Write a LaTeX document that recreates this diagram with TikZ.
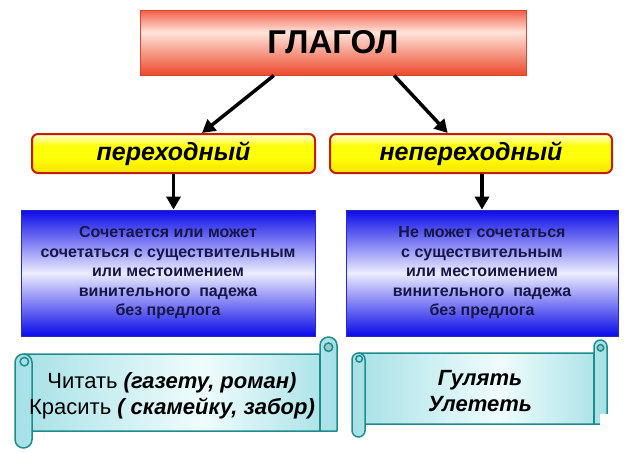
\documentclass[tikz,border=0pt]{standalone}
\usepackage{fontspec}
\setmainfont{Liberation Sans}
\usetikzlibrary{arrows.meta,calc}

\definecolor{glagtop}{RGB}{242,92,70}
\definecolor{glaglight}{RGB}{255,228,218}
\definecolor{glagbot}{RGB}{236,72,44}
\definecolor{glagline}{RGB}{214,70,40}
\definecolor{vidtop}{RGB}{255,255,218}
\definecolor{vidmid}{RGB}{255,255,10}
\definecolor{vidbot}{RGB}{246,226,0}
\definecolor{vidline}{RGB}{196,30,0}
\definecolor{defblue}{RGB}{10,10,232}
\definecolor{deflight}{RGB}{236,236,255}
\definecolor{defline}{RGB}{40,40,200}
\definecolor{deftext}{RGB}{22,22,72}
\definecolor{scrollfill}{RGB}{164,224,230}
\definecolor{scrolllight}{RGB}{240,252,252}
\definecolor{scrollline}{RGB}{30,140,140}

\pgfdeclareverticalshading{glagshade}{100bp}{color(0bp)=(glagbot); color(25bp)=(glagbot); color(58bp)=(glaglight); color(75bp)=(glagtop); color(100bp)=(glagtop)}
\pgfdeclareverticalshading{vidshade}{100bp}{color(0bp)=(vidbot); color(25bp)=(vidbot); color(45bp)=(vidmid); color(60bp)=(vidmid); color(75bp)=(vidtop); color(100bp)=(vidtop)}
\pgfdeclarehorizontalshading{scrollshade}{100bp}{color(0bp)=(scrollfill); color(25bp)=(scrollfill); color(54bp)=(scrolllight); color(75bp)=(scrollfill); color(100bp)=(scrollfill)}

% #1 left, #2 top, #3 right, #4 bottom, #5 roll width
\newcommand{\drawscroll}[5]{%
	\path[scrollbody] ({#1+#5/2},{#2+#5}) -- ({#3-#5},{#2+#5}) -- ({#3-#5},{#2+#5/2})
		arc[start angle=180,end angle=360,radius=#5/2] -- ({#3},{#4-#5}) -- ({#1+#5},{#4-#5})
		-- ({#1+#5},{#4-#5/2}) arc[start angle=0,end angle=180,radius=#5/2]
		-- ({#1},{#2+1.5*#5}) arc[start angle=180,end angle=270,radius=#5/2] -- cycle;
	\draw[scrollrim] ({#1+#5/2},{#2+#5}) arc[start angle=270,end angle=360,radius=#5/2] -- ({#1+#5},{#4-#5});
	\draw[scrollrim] ({#1+0.55*#5},{#2+1.45*#5}) circle[radius=#5/4];
	\draw[scrollrim] ({#3-#5},{#2+#5}) -- ({#3-#5},{#4-#5});
	\draw[scrollrim,fill=scrollline!45] ({#3-#5/2},{#2+0.6*#5}) circle[radius=#5/4];
}

\begin{document}
\begin{tikzpicture}[x=1pt,y=-1pt,
	glagbox/.style={draw=glagline,line width=1pt,shade,shading=glagshade,
		minimum width=386pt,minimum height=65pt,inner sep=0pt,
		font=\fontsize{33}{38}\selectfont\bfseries},
	vidbox/.style={draw=vidline,line width=2pt,rounded corners=6pt,shade,shading=vidshade,
		minimum height=39pt,inner sep=0pt,font=\fontsize{25}{29}\selectfont\bfseries\itshape},
	defbox/.style={draw=defline,line width=0.8pt,top color=defblue,bottom color=defblue,
		middle color=deflight,minimum height=126pt,inner sep=0pt,align=center,
		text=deftext,font=\fontsize{16}{19.5}\selectfont\bfseries},
	scrollbody/.style={draw=scrollline,line width=1.5pt,line join=round,shade,shading=scrollshade},
	scrollrim/.style={draw=scrollline,line width=1.5pt},
	extext/.style={align=center,inner sep=0pt,font=\fontsize{22}{26}\selectfont},
	arr/.style={line width=3.5pt,-{Triangle[length=13pt,width=14pt]}}]
	%\draw[help lines,step=50] (0,0) grid (638,453);
	\useasboundingbox (0,0) rectangle (638,453);

	\node[glagbox] (glagol) at (333,42.5) {ГЛАГОЛ};

	\node[vidbox,minimum width=283pt] (perekh) at (173.5,153.5) {переходный};
	\node[vidbox,minimum width=282pt] (neperekh) at (471,153.5) {непереходный};

	\node[defbox,minimum width=294pt] (perdef) at (168,273) {Сочетается или может\\сочетаться с существительным\\или местоимением\\винительного\ \ падежа\\без предлога};
	\node[defbox,minimum width=272pt] (neperdef) at (482,273) {Не может сочетаться\\с существительным\\или местоимением\\винительного\ \ падежа\\без предлога};

	\drawscroll{15}{337}{337}{448}{17}
	\drawscroll{352}{340}{607}{437}{13}
	\fill[white] (600,414) rectangle (638,453);

	\node[extext] (perex) at (172,396) {Читать \textbf{\textit{(газету, роман)}}\\Красить \textbf{\textit{( скамейку, забор)}}};
	\node[extext,font=\fontsize{22}{26}\selectfont\bfseries\itshape] (neperex) at (480,391) {Гулять\\Улететь};

	\draw[arr] ($(glagol.south west)!0.347!(glagol.south east)$) -- ($(perekh.north west)!0.6!(perekh.north east)$);
	\draw[arr] ($(glagol.south west)!0.658!(glagol.south east)$) -- ($(neperekh.north west)!0.418!(neperekh.north east)$);
	\draw[arr] (perekh.south) -- (perekh.south |- perdef.north);
	\draw[arr] (neperekh.south -| neperdef.north) -- (neperdef.north);
\end{tikzpicture}
\end{document}
